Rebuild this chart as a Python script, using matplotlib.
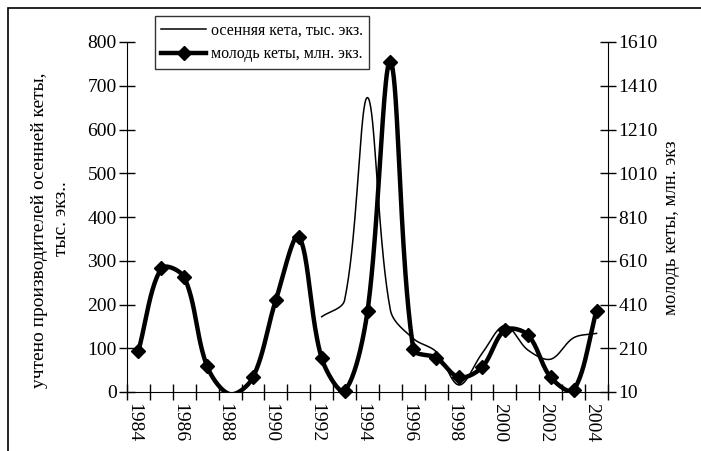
import numpy as np
import matplotlib
matplotlib.use("Agg")
import matplotlib.pyplot as plt
from matplotlib.patches import Rectangle
from matplotlib.transforms import ScaledTranslation

plt.rcParams['font.family'] = ['Liberation Serif', 'DejaVu Serif']

# data
years = list(range(1984, 2005))
# осенняя кета, тыс. экз. (left axis), starts in 1992
autumn_years = list(range(1992, 2005))
autumn_chum = [172, 210, 673, 187, 122, 92, 16, 88, 152, 96, 75, 124, 134]
# молодь кеты, млн. экз. (right axis)
juvenile_chum = [199, 575, 534, 127, 0, 77, 431, 720, 164, 16, 380, 1520,
                 207, 167, 77, 123, 293, 271, 77, 19, 382]

left_ticks = list(range(0, 801, 100))
right_ticks = list(range(10, 1611, 200))


def excel_smooth(x, y, sx, sy, n=40):
    # bezier smoothing like excel's "smoothed line";
    # control arms scaled by segment lengths in pixel space (sx, sy = px per unit)
    x = np.asarray(x, float) * sx
    y = np.asarray(y, float) * sy
    m = len(x)
    d = np.hypot(np.diff(x), np.diff(y))
    t = np.linspace(0, 1, n)
    xs, ys = [], []
    for i in range(m - 1):
        x0, y0, x3, y3 = x[i], y[i], x[i + 1], y[i + 1]
        if i > 0:
            f = d[i] / (d[i - 1] + d[i]) / 3
            x1 = x0 + (x[i + 1] - x[i - 1]) * f
            y1 = y0 + (y[i + 1] - y[i - 1]) * f
        else:
            x1, y1 = x0 + (x3 - x0) / 3, y0 + (y3 - y0) / 3
        if i < m - 2:
            f = d[i] / (d[i] + d[i + 1]) / 3
            x2 = x3 - (x[i + 2] - x[i]) * f
            y2 = y3 - (y[i + 2] - y[i]) * f
        else:
            x2, y2 = x3 - (x3 - x0) / 3, y3 - (y3 - y0) / 3
        b0 = (1 - t) ** 3
        b1 = 3 * (1 - t) ** 2 * t
        b2 = 3 * (1 - t) * t ** 2
        b3 = t ** 3
        xs.append(b0 * x0 + b1 * x1 + b2 * x2 + b3 * x3)
        ys.append(b0 * y0 + b1 * y1 + b2 * y2 + b3 * y3)
    return np.concatenate(xs) / sx, np.concatenate(ys) / sy


fig = plt.figure(figsize=(7.01, 4.51), dpi=100)
ax = fig.add_axes([127 / 701, 1 - 392 / 451, 481 / 701, 350 / 451])
ax2 = ax.twinx()

ax.set_xlim(-0.5, len(years) - 0.5)
ax.set_ylim(left_ticks[0], left_ticks[-1])
ax2.set_ylim(right_ticks[0], right_ticks[-1])

# pixels per data unit, for the smoothing
px_x = 481 / len(years)
px_yl = 350 / (left_ticks[-1] - left_ticks[0])
px_yr = 350 / (right_ticks[-1] - right_ticks[0])

xpos = np.arange(len(years))
apos = np.array([years.index(y) for y in autumn_years])

sx, sy = excel_smooth(apos, autumn_chum, px_x, px_yl)
ax.plot(sx, sy, color='black', lw=1.1, label='осенняя кета, тыс. экз.')

jx, jy = excel_smooth(xpos, juvenile_chum, px_x, px_yr)
ax2.plot(jx, jy, color='black', lw=3.2, solid_capstyle='round')
# markers hidden where the point falls below the axis minimum
jv = np.array(juvenile_chum)
vis = jv >= right_ticks[0]
ax2.plot(xpos[vis], jv[vis], linestyle='none', marker='D', ms=7,
         color='black', clip_on=False)
juv_handle, = ax2.plot([], [], color='black', lw=3.2, marker='D', ms=7,
                       label='молодь кеты, млн. экз.')

ax.set_yticks(left_ticks)
ax2.set_yticks(right_ticks)

ax.set_xticks(np.arange(-0.5, len(years)), labels=[])
ax.set_xticks(xpos[::2], labels=[str(y) for y in years[::2]], minor=True)
ax.tick_params(axis='x', which='major', direction='inout', length=11, width=1)
ax.tick_params(axis='x', which='minor', length=0, pad=8, labelsize=14,
               labelrotation=-90)
shift = ScaledTranslation(-5 / 100, 0, fig.dpi_scale_trans)
for lab in ax.get_xticklabels(minor=True):
    lab.set_transform(lab.get_transform() + shift)
ax.tick_params(axis='y', direction='inout', length=11, width=1, labelsize=14, pad=2)
ax2.tick_params(axis='y', direction='inout', length=11, width=1, labelsize=14, pad=2)

for a in (ax, ax2):
    a.spines['top'].set_visible(False)
ax.spines['right'].set_visible(False)
ax2.spines['left'].set_visible(False)
ax2.spines['bottom'].set_visible(False)

fig.text(40 / 701, 1 - 230 / 451, 'учтено производителей осенней кеты,',
         rotation=90, ha='center', va='center', fontsize=14)
fig.text(62 / 701, 1 - 219 / 451, 'тыс. экз..',
         rotation=90, ha='center', va='center', fontsize=14)
fig.text(672 / 701, 1 - 228 / 451, 'молодь кеты, млн. экз',
         rotation=90, ha='center', va='center', fontsize=13.5)

h1, l1 = ax.get_legend_handles_labels()
leg = fig.legend([h1[0], juv_handle], [l1[0], juv_handle.get_label()],
                 loc='upper left', bbox_to_anchor=(155 / 701, 1 - 16 / 451),
                 fontsize=11.5, frameon=True, fancybox=False, handlelength=2.8,
                 handletextpad=0.3, borderpad=0.4, labelspacing=0.5,
                 borderaxespad=0)
leg.get_frame().set_edgecolor('black')
leg.get_frame().set_linewidth(1)

fig.add_artist(Rectangle((8 / 701, -0.1), 1.2, 1.1 - 8 / 451, fill=False,
                         edgecolor='black', lw=1.2, transform=fig.transFigure,
                         clip_on=False))

fig.savefig('out.png', dpi=100)
